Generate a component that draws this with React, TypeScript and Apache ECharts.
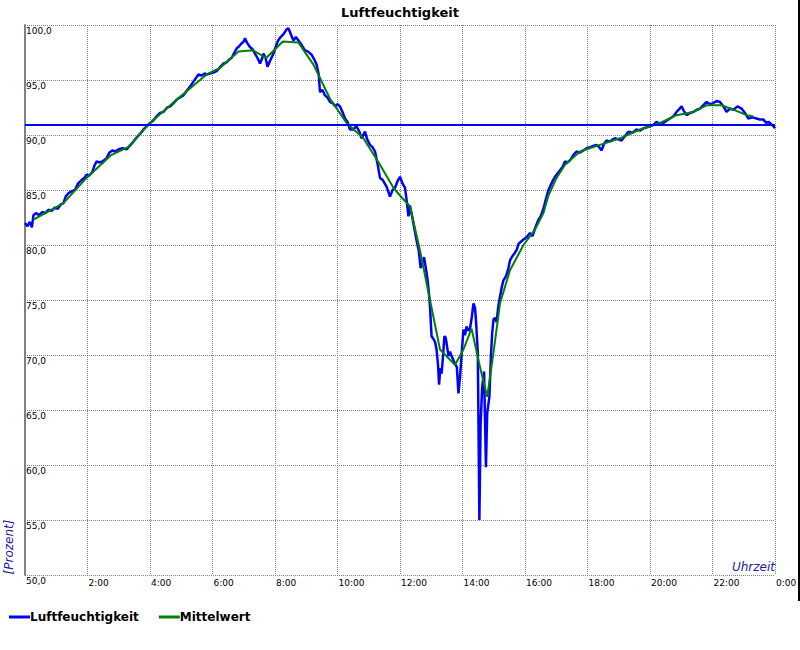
import React, { useEffect, useRef } from "react";
import * as echarts from "echarts";

// Time of day in hours (0–24) and relative humidity in percent
const humidityTimes: number[] = [
  0.00, 0.08, 0.15, 0.22, 0.27, 0.35, 0.45, 0.55, 0.65, 0.75, 0.85, 0.95, 1.05, 1.15, 1.23, 1.30, 1.39, 1.50, 1.60, 1.70,
  1.81, 1.90, 1.97, 2.05, 2.15, 2.22, 2.29, 2.38, 2.48, 2.61, 2.70, 2.80, 2.88, 3.00, 3.12, 3.25, 3.35, 3.47, 3.58, 3.68,
  3.79, 3.90, 4.00, 4.10, 4.21, 4.32, 4.43, 4.55, 4.65, 4.75, 4.85, 4.95, 5.07, 5.17, 5.28, 5.40, 5.50, 5.55, 5.65, 5.75,
  5.81, 5.95, 6.05, 6.13, 6.25, 6.35, 6.45, 6.55, 6.61, 6.70, 6.78, 6.83, 6.92, 7.00, 7.04, 7.10, 7.20, 7.28, 7.36, 7.44,
  7.52, 7.58, 7.63, 7.70, 7.76, 7.85, 7.95, 8.02, 8.10, 8.18, 8.28, 8.37, 8.43, 8.50, 8.59, 8.67, 8.75, 8.85, 8.96, 9.05,
  9.17, 9.25, 9.33, 9.40, 9.44, 9.52, 9.60, 9.68, 9.76, 9.85, 9.92, 10.00, 10.08, 10.16, 10.24, 10.32, 10.40, 10.50, 10.61, 10.70,
  10.77, 10.88, 10.95, 11.04, 11.12, 11.20, 11.28, 11.36, 11.45, 11.57, 11.68, 11.76, 11.84, 11.92, 12.00, 12.08, 12.16, 12.22, 12.27, 12.32,
  12.40, 12.53, 12.60, 12.66, 12.72, 12.77, 12.82, 12.87, 12.92, 12.96, 13.01, 13.06, 13.12, 13.17, 13.22, 13.25, 13.29, 13.33, 13.38, 13.42,
  13.46, 13.49, 13.55, 13.60, 13.65, 13.70, 13.76, 13.82, 13.87, 13.92, 13.97, 14.03, 14.08, 14.13, 14.19, 14.24, 14.30, 14.35, 14.40, 14.43,
  14.49, 14.54, 14.58, 14.63, 14.69, 14.75, 14.79, 14.86, 14.91, 14.95, 14.99, 15.04, 15.09, 15.15, 15.20, 15.26, 15.31, 15.36, 15.41, 15.47,
  15.52, 15.60, 15.68, 15.74, 15.79, 15.87, 15.95, 16.05, 16.16, 16.24, 16.32, 16.43, 16.50, 16.59, 16.67, 16.75, 16.80, 16.88, 16.96, 17.04,
  17.12, 17.20, 17.28, 17.36, 17.44, 17.55, 17.65, 17.75, 17.87, 17.97, 18.08, 18.18, 18.29, 18.37, 18.45, 18.53, 18.61, 18.72, 18.80, 18.88,
  18.98, 19.09, 19.20, 19.31, 19.44, 19.57, 19.68, 19.79, 19.90, 20.00, 20.10, 20.21, 20.32, 20.43, 20.53, 20.64, 20.75, 20.85, 20.95, 21.01,
  21.08, 21.17, 21.28, 21.39, 21.50, 21.60, 21.70, 21.81, 21.92, 22.03, 22.13, 22.24, 22.35, 22.45, 22.56, 22.67, 22.80, 22.93, 23.04, 23.15,
  23.28, 23.41, 23.52, 23.63, 23.72, 23.79, 23.87, 23.95, 24.00,
];
const humidityValues: number[] = [
  82.0, 81.7, 82.1, 81.6, 82.7, 82.9, 82.7, 83.0, 82.9, 83.2, 83.1, 83.4, 83.3, 83.7, 83.8, 84.4, 84.7, 84.9, 85.0, 85.6,
  85.9, 86.1, 86.4, 86.3, 86.6, 87.2, 87.6, 87.5, 87.6, 87.9, 88.4, 88.6, 88.5, 88.7, 88.8, 88.7, 89.0, 89.4, 89.8, 90.1,
  90.5, 90.8, 91.1, 91.3, 91.7, 92.0, 92.1, 92.5, 92.6, 92.9, 93.2, 93.4, 93.6, 94.0, 94.4, 94.9, 95.3, 95.5, 95.4, 95.6,
  95.5, 95.6, 95.7, 95.8, 96.2, 96.5, 96.6, 96.9, 97.0, 97.5, 97.9, 98.0, 98.3, 98.5, 98.8, 98.4, 98.0, 97.8, 97.4, 97.0,
  96.5, 96.9, 97.4, 97.0, 96.2, 96.8, 97.4, 98.0, 98.6, 98.9, 99.2, 99.6, 99.7, 99.2, 98.6, 98.9, 98.6, 98.2, 97.7, 97.6,
  97.3, 96.9, 96.4, 95.5, 93.9, 94.1, 93.6, 93.4, 93.0, 92.9, 92.6, 92.8, 92.6, 92.1, 91.5, 91.2, 90.5, 90.5, 90.8, 90.3,
  89.7, 90.3, 89.6, 89.1, 88.9, 88.5, 87.4, 86.1, 85.9, 85.3, 84.4, 85.0, 85.2, 85.8, 86.2, 85.6, 85.2, 83.9, 82.6, 83.6,
  82.4, 80.4, 79.5, 77.9, 78.4, 78.9, 78.0, 77.1, 75.8, 74.4, 71.7, 71.5, 71.2, 70.5, 69.0, 67.3, 68.8, 68.3, 70.0, 71.7,
  71.6, 71.1, 69.9, 70.3, 69.9, 69.6, 69.2, 68.9, 66.5, 68.0, 70.0, 72.3, 71.8, 72.6, 72.2, 72.4, 73.5, 74.7, 74.3, 73.2,
  70.2, 55.0, 63.8, 67.1, 68.5, 59.8, 64.7, 66.2, 69.9, 72.0, 73.2, 73.4, 73.0, 74.5, 75.3, 76.2, 76.8, 77.0, 77.3, 77.9,
  78.6, 79.0, 79.3, 79.6, 80.1, 80.3, 80.5, 80.7, 81.1, 80.8, 81.5, 82.3, 82.6, 83.3, 84.2, 85.0, 85.3, 85.8, 86.2, 86.5,
  86.8, 87.1, 87.6, 87.5, 87.7, 88.2, 88.5, 88.4, 88.6, 88.8, 88.9, 89.0, 89.1, 88.9, 88.6, 89.2, 89.5, 89.4, 89.6, 89.7,
  89.6, 89.5, 89.9, 90.3, 90.2, 90.5, 90.4, 90.6, 90.7, 90.8, 90.9, 91.2, 91.0, 91.1, 91.3, 91.5, 91.7, 92.1, 92.4, 92.6,
  92.2, 91.8, 92.0, 92.1, 92.3, 92.4, 92.7, 93.0, 92.8, 92.9, 93.1, 93.0, 92.6, 92.1, 92.4, 92.3, 92.6, 92.4, 92.0, 91.5,
  91.6, 91.5, 91.4, 91.4, 91.1, 91.2, 91.0, 90.8, 90.6,
];

const meanTimes: number[] = [
  0.27, 1.23, 1.97, 2.77, 3.30, 4.00, 4.85, 5.81, 6.24, 6.83, 7.30, 7.72, 8.25, 8.75, 9.23, 9.76, 10.29, 10.83, 11.36, 11.79,
  12.00, 12.32, 12.64, 12.96, 13.28, 13.76, 14.03, 14.29, 14.56, 14.79, 14.99, 15.20, 15.52, 15.95, 16.32, 16.59, 16.75, 17.01, 17.28, 17.76,
  18.40, 19.04, 19.68, 20.32, 20.85, 21.39, 21.81, 22.29, 22.67, 23.09, 23.30,
];
const meanValues: number[] = [
  82.3, 83.8, 86.1, 88.2, 88.9, 91.1, 93.2, 95.5, 96.1, 97.6, 97.7, 97.0, 98.5, 98.4, 96.4, 93.3, 91.1, 89.7, 87.3, 85.2,
  84.5, 83.5, 79.5, 75.0, 70.5, 69.1, 70.5, 72.4, 68.9, 66.2, 70.2, 74.7, 77.7, 80.0, 81.4, 82.9, 84.5, 86.1, 87.3, 88.5,
  89.1, 89.7, 90.5, 91.1, 91.8, 92.1, 92.7, 92.7, 92.3, 91.8, 91.7,
];

const referenceLevel = 90.95;

const chartTitle = "Luftfeuchtigkeit";
const seriesNames = ["Luftfeuchtigkeit", "Mittelwert"];
const yAxisTitle = "[Prozent]";
const xAxisTitle = "Uhrzeit";

const FONT = "DejaVu Sans";

export default function App() {
  const ref = useRef<HTMLDivElement>(null);

  useEffect(() => {
    if (!ref.current) return;
    const chart = echarts.init(ref.current, undefined, { renderer: "svg" });
    const humidity = humidityTimes.map((t, i) => [t, humidityValues[i]]);
    const mean = meanTimes.map((t, i) => [t, meanValues[i]]);

    chart.setOption({
      animation: false,
      backgroundColor: "#ffffff",
      title: {
        text: chartTitle,
        left: "center",
        top: 1,
        textStyle: { fontFamily: FONT, fontSize: 13, fontWeight: "bold", color: "#000" },
      },
      legend: {
        left: 9,
        top: 610,
        padding: 0,
        itemWidth: 21,
        itemHeight: 3,
        itemGap: 20,
        icon: "rect",
        textStyle: {
          fontFamily: FONT,
          fontSize: 12,
          fontWeight: "bold",
          color: "#000",
          lineHeight: 14,
          padding: [0, 0, 0, -5],
        },
        data: seriesNames,
      },
      grid: { left: 25, right: 25, top: 25, bottom: 75, containLabel: false },
      xAxis: {
        type: "value",
        min: 0,
        max: 24,
        interval: 2,
        axisLine: { show: false },
        axisTick: { show: false },
        splitLine: { show: true, lineStyle: { color: "#808080", width: 1, type: [1, 1] } },
        axisLabel: {
          fontFamily: FONT,
          fontSize: 9,
          color: "#000",
          align: "left",
          verticalAlign: "top",
          margin: 3,
          padding: [0, 0, 0, 1],
          showMinLabel: true,
          showMaxLabel: true,
          formatter: (v: number) => (v === 0 ? "" : `${v % 24}:00`),
        },
      },
      yAxis: {
        type: "value",
        min: 50,
        max: 100,
        interval: 5,
        axisLine: { show: true, lineStyle: { color: "#808080", width: 2 } },
        axisTick: { show: false },
        splitLine: { show: true, lineStyle: { color: "#808080", width: 1, type: [1, 1] } },
        axisLabel: {
          inside: true,
          fontFamily: FONT,
          fontSize: 9,
          color: "#000",
          align: "left",
          verticalAlign: "top",
          margin: 1,
          padding: [1, 0, 0, 0],
          showMinLabel: true,
          showMaxLabel: true,
          formatter: (v: number) => v.toFixed(1).replace(".", ","),
        },
      },
      series: [
        {
          name: seriesNames[0],
          type: "line",
          data: humidity,
          showSymbol: false,
          symbol: "none",
          color: "#0000ff",
          lineStyle: { color: "#0000ff", width: 2.5 },
          z: 2,
          markLine: {
            silent: true,
            symbol: "none",
            label: { show: false },
            lineStyle: { color: "#0000ff", width: 2, type: "solid" },
            data: [{ yAxis: referenceLevel }],
          },
        },
        {
          name: seriesNames[1],
          type: "line",
          data: mean,
          showSymbol: false,
          symbol: "none",
          color: "#008000",
          lineStyle: { color: "#008000", width: 2 },
          z: 3,
        },
      ],
      graphic: [
        {
          type: "text",
          x: 9,
          y: 547,
          rotation: Math.PI / 2,
          style: {
            text: yAxisTitle,
            fontFamily: FONT,
            fontSize: 12,
            fontStyle: "italic",
            fill: "#2020a0",
            align: "center",
            verticalAlign: "middle",
          },
        },
        {
          type: "text",
          x: 775,
          y: 567,
          style: {
            text: xAxisTitle,
            fontFamily: FONT,
            fontSize: 12,
            fontStyle: "italic",
            fill: "#2020a0",
            align: "right",
            verticalAlign: "middle",
          },
        },
        {
          type: "rect",
          shape: { x: 798, y: 0, width: 2, height: 601 },
          style: { fill: "#000" },
          z: 100,
        },
      ],
    });

    return () => chart.dispose();
  }, []);

  return (
    <div
      ref={ref}
      style={{ position: "absolute", left: 0, top: 0, width: 800, height: 650 }}
    />
  );
}
